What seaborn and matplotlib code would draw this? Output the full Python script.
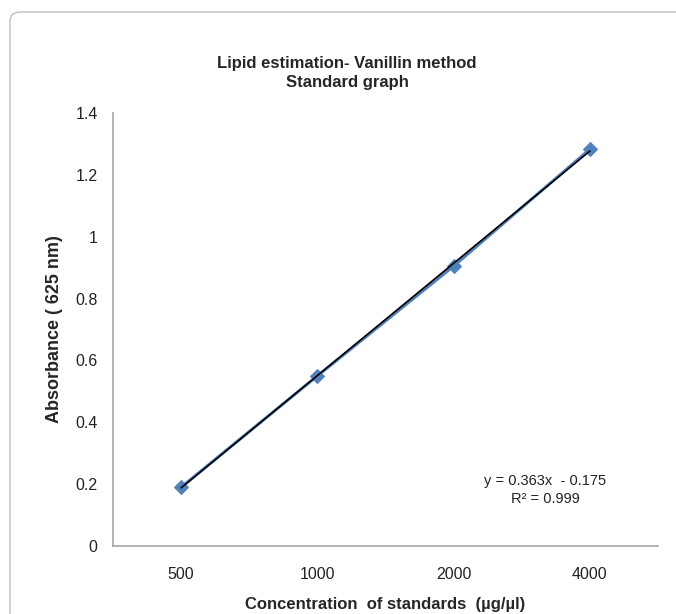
import matplotlib
matplotlib.use("Agg")
import matplotlib.pyplot as plt
import seaborn as sns
import pandas as pd
import numpy as np
from matplotlib.patches import FancyBboxPatch

categories = ["500", "1000", "2000", "4000"]
absorbance = [0.19, 0.55, 0.905, 1.283]
slope = 0.363
intercept = -0.175
r2_text = "R² = 0.999"
yticks = [0, 0.2, 0.4, 0.6, 0.8, 1, 1.2, 1.4]

sns.set_theme(style="white")
plt.rcParams['font.family'] = ['Liberation Sans', 'DejaVu Sans']

fig = plt.figure(figsize=(6.76, 6.14), dpi=100)
ax = fig.add_axes([113/676, 1-546/614, (658-113)/676, (546-113)/614])

border = FancyBboxPatch((10/676, -0.05), 1.0, 1-12/614+0.05,
                        boxstyle="round,pad=0,rounding_size=0.015",
                        transform=fig.transFigure, fill=False,
                        edgecolor="#bfbfbf", linewidth=1.0, zorder=0)
fig.patches.append(border)

df = pd.DataFrame({"pos": np.arange(1, len(categories)+1), "abs": absorbance})
sns.lineplot(data=df, x="pos", y="abs", ax=ax, color="#4F81BD", linewidth=2.2,
             marker="D", markersize=7, markeredgecolor="#4F81BD", zorder=2)
xs = np.array([1, len(categories)])
ax.plot(xs, slope*xs + intercept, color="black", linewidth=1.2, zorder=3)

ax.set_xlim(0.5, len(categories)+0.5)
ax.set_ylim(0, 1.4)
ax.set_xticks(df["pos"])
ax.set_xticklabels(categories)
ax.set_yticks(yticks)
ax.set_yticklabels([f"{v:g}" for v in yticks])
ax.tick_params(axis="both", length=0, labelsize=11.5, colors="#222222")
ax.tick_params(axis="x", pad=15)
ax.tick_params(axis="y", pad=11)

for s in ["top", "right"]:
    ax.spines[s].set_visible(False)
for s in ["left", "bottom"]:
    ax.spines[s].set_color("#a6a6a6")
    ax.spines[s].set_linewidth(1.2)

ax.set_xlabel("Concentration  of standards  (µg/µl)", fontsize=12, fontweight="bold", labelpad=11)
ax.set_ylabel("Absorbance ( 625 nm)", fontsize=13, fontweight="bold", labelpad=9)

fig.text(347/676, 1-73/614, "Lipid estimation- Vanillin method\nStandard graph",
         ha="center", va="center", fontsize=12, fontweight="bold", linespacing=1.35)

ax.text(545/676, 1-490/614, f"y = {slope}x  - {abs(intercept)}\n{r2_text}",
        transform=fig.transFigure, ha="center", va="center", fontsize=10.5,
        color="#222222", linespacing=1.3)

fig.savefig("out.png", dpi=100)
